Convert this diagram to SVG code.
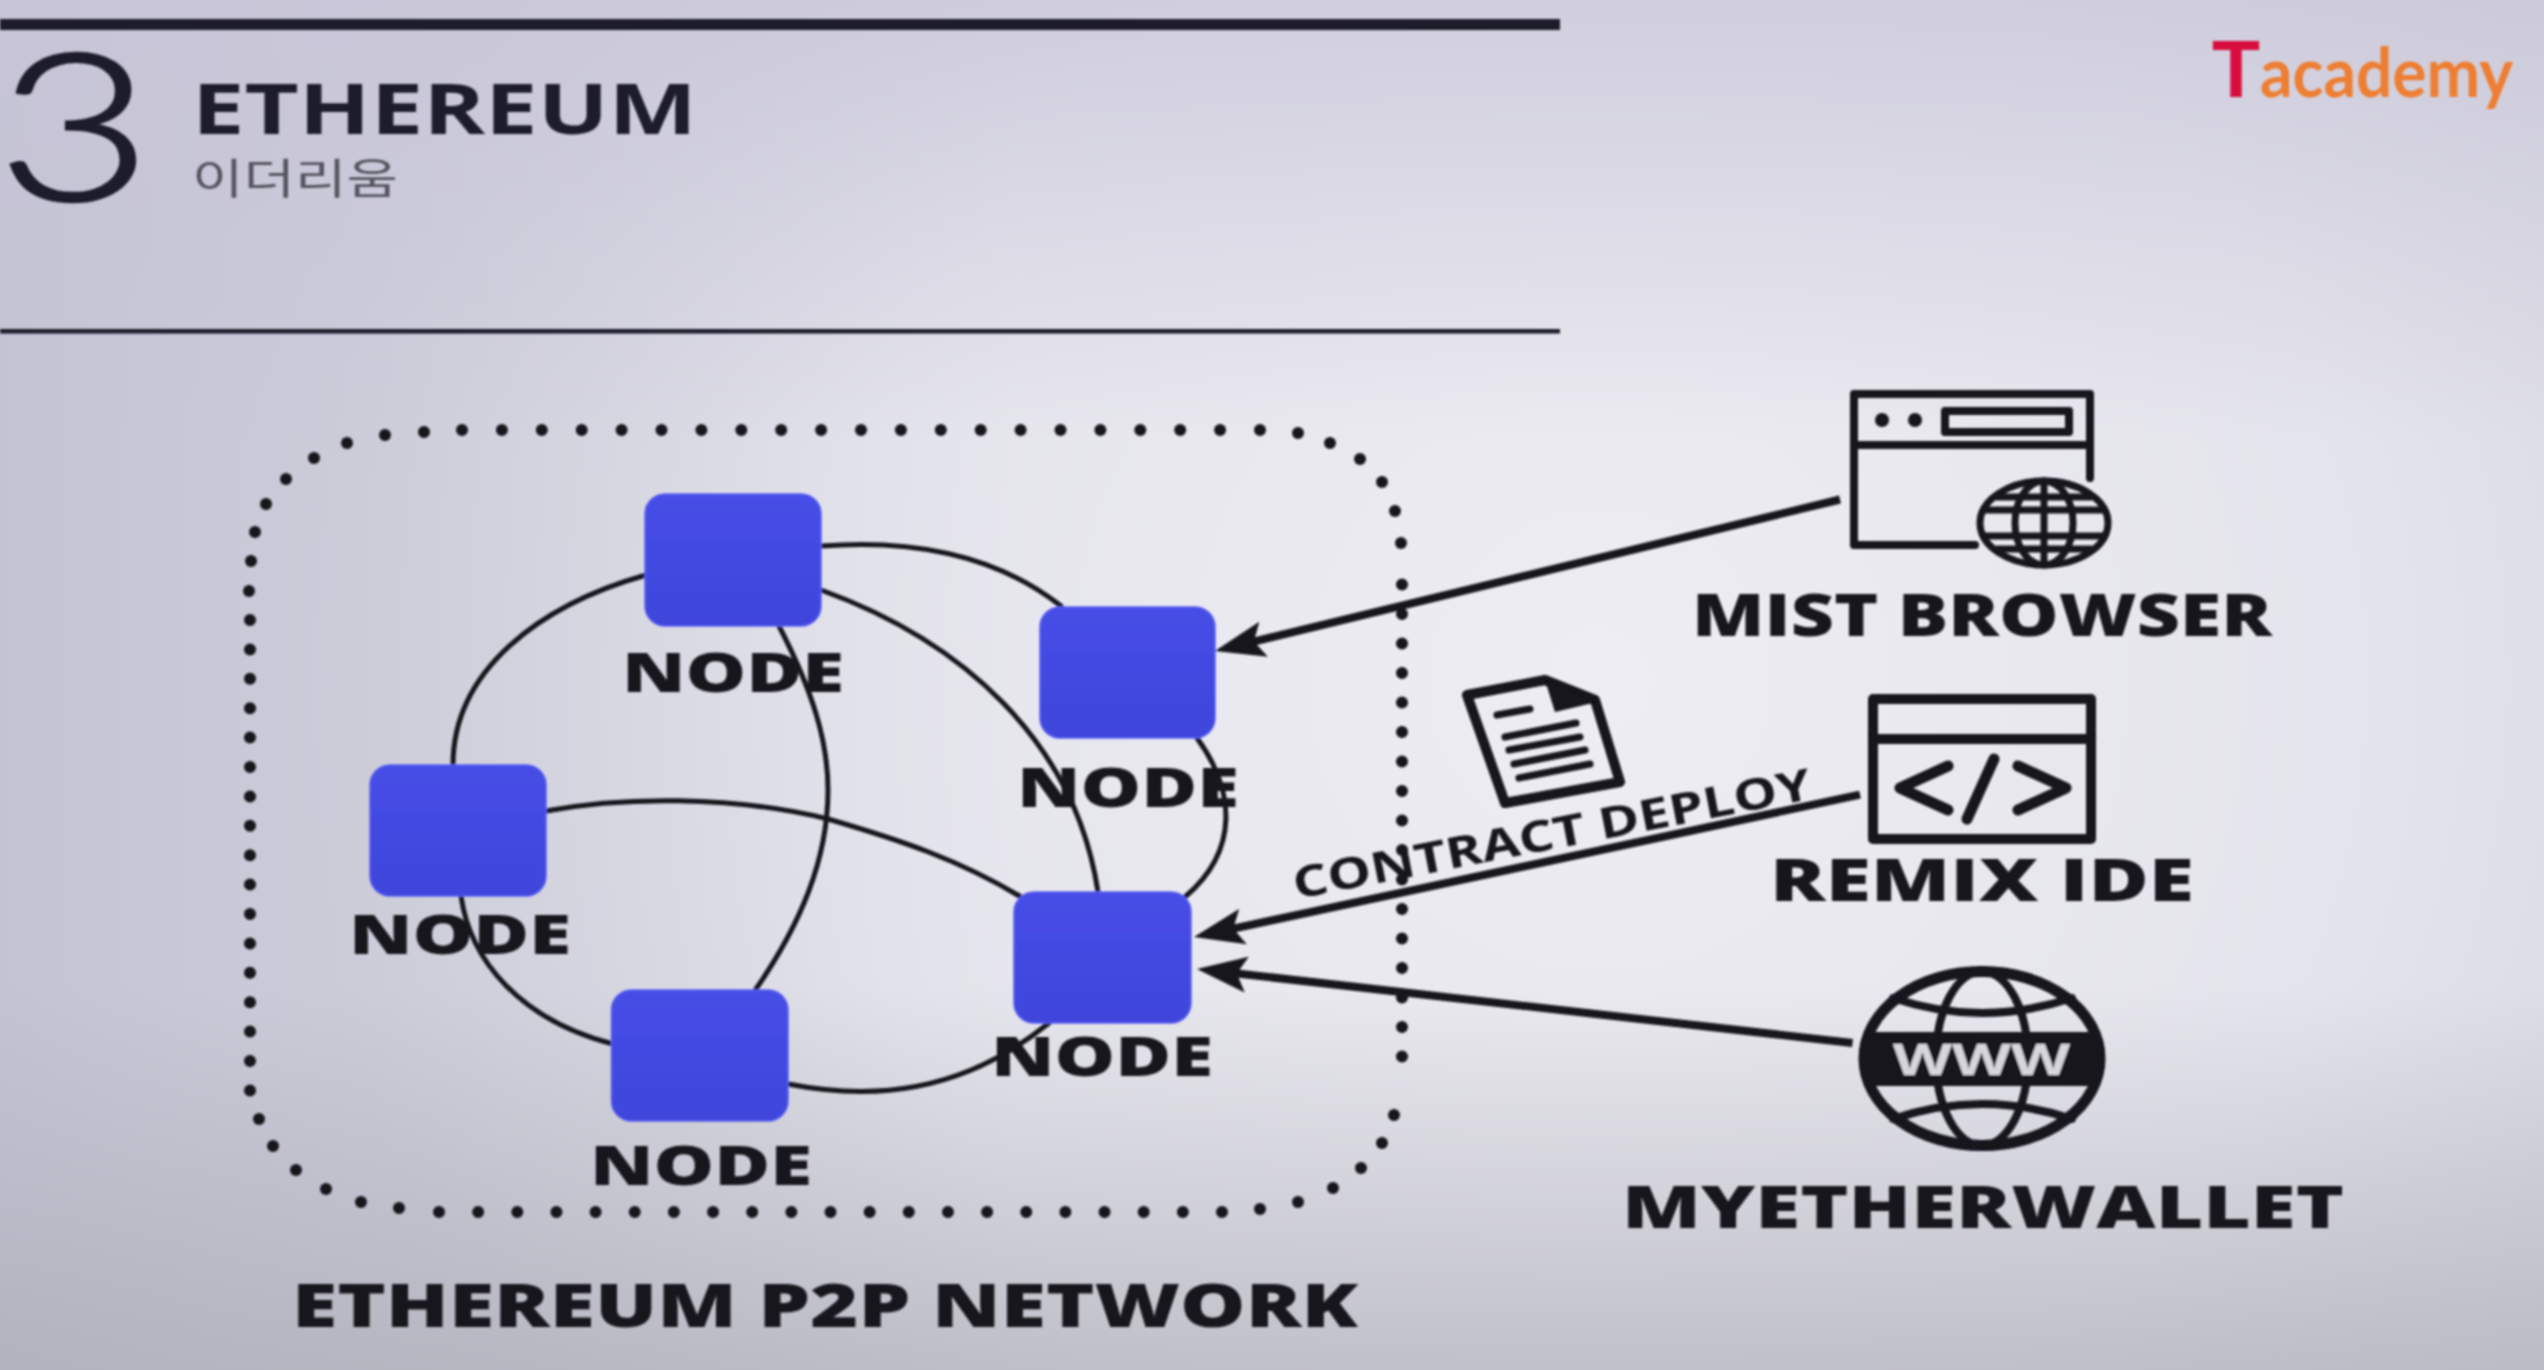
<svg xmlns="http://www.w3.org/2000/svg" width="2544" height="1370" viewBox="0 0 2544 1370">
<defs>
<linearGradient id="bgTop" x1="0" y1="0" x2="0" y2="1"><stop offset="0" stop-color="#c8c5d8" stop-opacity="0.7"/><stop offset="0.32" stop-color="#c8c5d8" stop-opacity="0"/><stop offset="0.72" stop-color="#a8a8b2" stop-opacity="0"/><stop offset="1" stop-color="#a8a8b2" stop-opacity="0.6"/></linearGradient>
<linearGradient id="bgLeft" x1="0" y1="0" x2="1" y2="0"><stop offset="0" stop-color="#b8b8cc" stop-opacity="0.6"/><stop offset="0.4" stop-color="#c8c8d8" stop-opacity="0"/></linearGradient>
<radialGradient id="bgGlow" gradientUnits="userSpaceOnUse" cx="1600" cy="680" r="1300"><stop offset="0" stop-color="#eeedf3"/><stop offset="0.6" stop-color="#e4e4ec"/><stop offset="1" stop-color="#d4d4de"/></radialGradient>
<linearGradient id="nodeFill" x1="0" y1="0" x2="0" y2="1"><stop offset="0" stop-color="#464ee6"/><stop offset="1" stop-color="#3f45dc"/></linearGradient>
<filter id="soft" x="0" y="0" width="100%" height="100%"><feGaussianBlur stdDeviation="0.9"/></filter>
<marker id="arrow" markerUnits="userSpaceOnUse" markerWidth="60" markerHeight="44" refX="30" refY="22" orient="auto"><path d="M50,22 L0,4 L10,22 L0,40 Z" fill="#12121c"/></marker>
</defs>
<style>
text{fill:#13131c}
.h{font-family:"Open Sans","Liberation Sans",sans-serif;font-weight:800}
.nd{font-size:55px}
.lb{font-size:58px}
.ln{fill:none;stroke:#16161f;stroke-width:5;stroke-linecap:round}
.ar{fill:none;stroke:#12121c;stroke-width:8;marker-end:url(#arrow)}
.nb{fill:url(#nodeFill);stroke:#5a60f0;stroke-width:1.5}
.ic{fill:none;stroke:#12121c;stroke-width:8;stroke-linejoin:round;stroke-linecap:round}
.th{stroke-width:7}
.hv{stroke-width:10}
.xh{stroke-width:11}
.dot{fill:#14141f}
</style>
<rect width="2544" height="1370" fill="url(#bgGlow)"/>
<rect width="2544" height="1370" fill="url(#bgLeft)"/>
<rect width="2544" height="1370" fill="url(#bgTop)"/>
<g filter="url(#soft)">
<g id="header">
<rect x="0" y="19" width="1560" height="11" fill="#1a1a2a"/>
<rect x="0" y="329" width="1560" height="4.5" fill="#1a1a2a"/>
<text x="-3" y="200" font-family="Lato,'Open Sans',sans-serif" font-weight="300" font-size="205" textLength="155" lengthAdjust="spacingAndGlyphs" style="fill:#1e1e2c;stroke:#1e1e2c;stroke-width:3">3</text>
<text x="192" y="134" font-family="'Open Sans',sans-serif" font-weight="700" font-size="70" textLength="505" lengthAdjust="spacingAndGlyphs" style="fill:#1e1e2c">ETHEREUM</text>
<text x="192" y="194" font-family="'Noto Sans CJK KR',sans-serif" font-size="42" textLength="206" lengthAdjust="spacingAndGlyphs" style="fill:#55555f">이더리움</text>
</g>
<g id="logo">
<text x="2212" y="97" font-family="'Liberation Sans',sans-serif" font-weight="700" font-size="82" textLength="48" lengthAdjust="spacingAndGlyphs" style="fill:#d80a3e">T</text>
<text x="2260" y="97" font-family="Lato,sans-serif" font-weight="700" font-size="68" textLength="253" lengthAdjust="spacingAndGlyphs" style="fill:#ee7e32">academy</text>
</g>
<g id="network-boundary" class="dot">
<circle cx="249" cy="591" r="6"/><circle cx="251" cy="561" r="6"/><circle cx="255" cy="532" r="6"/><circle cx="266" cy="504" r="6"/><circle cx="286" cy="479" r="6"/><circle cx="314" cy="458" r="6"/><circle cx="347" cy="443" r="6"/><circle cx="385" cy="435" r="6"/><circle cx="424" cy="432" r="6"/>
<path d="M462,430 H1262" fill="none" stroke="#14141f" stroke-width="12" stroke-linecap="round" stroke-dasharray="0 39.9"/>
<circle cx="1298" cy="433" r="6"/><circle cx="1330" cy="443" r="6"/><circle cx="1360" cy="459" r="6"/><circle cx="1382" cy="482" r="6"/><circle cx="1395" cy="511" r="6"/><circle cx="1401" cy="543" r="6"/>
<path d="M1402,584.5 V1086" fill="none" stroke="#14141f" stroke-width="12" stroke-linecap="round" stroke-dasharray="0 29.5"/>
<circle cx="1394" cy="1115" r="6"/><circle cx="1382" cy="1143" r="6"/><circle cx="1361" cy="1168" r="6"/><circle cx="1333" cy="1188" r="6"/><circle cx="1298" cy="1202" r="6"/><circle cx="1260" cy="1209" r="6"/>
<path d="M439,1212 H1224" fill="none" stroke="#14141f" stroke-width="12" stroke-linecap="round" stroke-dasharray="0 39.15"/>
<circle cx="399" cy="1208" r="6"/><circle cx="361" cy="1202" r="6"/><circle cx="326" cy="1189" r="6"/><circle cx="296" cy="1170" r="6"/><circle cx="273" cy="1146" r="6"/><circle cx="259" cy="1119" r="6"/>
<path d="M250,620 V1091" fill="none" stroke="#14141f" stroke-width="12" stroke-linecap="round" stroke-dasharray="0 29.4"/>
</g>
<g id="connectors">
<path class="ln" d="M646,575 C540,605 453,670 453,765"/>
<path class="ln" d="M821,546 C900,540 990,550 1061,606"/>
<path class="ln" d="M821,590 C960,640 1075,740 1098,892"/>
<path class="ln" d="M779,626 C812,690 828,740 828,790 C828,860 800,925 756,989"/>
<path class="ln" d="M546,811 C620,797 730,795 828,819 C900,840 960,860 1021,897"/>
<path class="ln" d="M461,896 C470,960 520,1020 613,1044"/>
<path class="ln" d="M788,1084 C870,1100 960,1095 1049,1023"/>
<path class="ln" d="M1197,738 C1235,790 1240,850 1185,897"/>
<path class="ar" d="M1840,499.5 L1234.4,646.3"/>
<path class="ar" d="M1860,794.6 L1213.6,932.8"/>
<path class="ar" d="M1852.5,1043 L1216.9,971.2"/>
</g>
<g id="node-1"><rect class="nb" x="645" y="494" width="176" height="132" rx="20"/><text class="h nd" x="622" y="692" textLength="222" lengthAdjust="spacingAndGlyphs">NODE</text></g>
<g id="node-2"><rect class="nb" x="1040" y="607" width="175" height="131" rx="20"/><text class="h nd" x="1017" y="807" textLength="222" lengthAdjust="spacingAndGlyphs">NODE</text></g>
<g id="node-3"><rect class="nb" x="370" y="765" width="176" height="131" rx="20"/><text class="h nd" x="349" y="954" textLength="222" lengthAdjust="spacingAndGlyphs">NODE</text></g>
<g id="node-4"><rect class="nb" x="1014" y="892" width="177" height="131" rx="20"/><text class="h nd" x="991" y="1076" textLength="222" lengthAdjust="spacingAndGlyphs">NODE</text></g>
<g id="node-5"><rect class="nb" x="611.5" y="990" width="176.5" height="131" rx="20"/><text class="h nd" x="590" y="1185" textLength="222" lengthAdjust="spacingAndGlyphs">NODE</text></g>
<text id="network-label" class="h" x="292" y="1327" font-size="61" textLength="1066" lengthAdjust="spacingAndGlyphs">ETHEREUM P2P NETWORK</text>
<g id="contract">
<path class="ic hv" d="M1467,695 L1545,680 L1595,700 L1620,782 L1505,803 Z"/>
<path d="M1545,680 L1597,702 L1555,712 Z" fill="#12121c"/>
<path class="ic th" d="M1497,715 L1530,709 M1505,737 L1576,723 M1509,750 L1580,737 M1514,764 L1585,750 M1519,778 L1590,764"/>
<text x="1296" y="899" transform="rotate(-11 1296 899)" font-family="'Open Sans',sans-serif" font-weight="700" font-size="43" textLength="527" lengthAdjust="spacingAndGlyphs">CONTRACT DEPLOY</text>
</g>
<g id="mist-browser">
<path class="ic" d="M2090,478 V394 H1854 V545 H1975 M1854,445 H2090"/>
<circle class="dot" cx="1882" cy="420" r="7"/><circle class="dot" cx="1915" cy="420" r="7"/>
<rect class="ic" x="1945" y="411" width="124" height="21"/>
<ellipse class="ic th" cx="2044" cy="523" rx="64" ry="42"/>
<ellipse class="ic th" cx="2044" cy="523" rx="29" ry="42"/>
<path class="ic th" d="M2044,481 V565 M1984,510 H2104 M1984,536 H2104 M1997,497 H2091 M1997,549 H2091"/>
<text class="h lb" x="1692" y="636" textLength="580" lengthAdjust="spacingAndGlyphs">MIST BROWSER</text>
</g>
<g id="remix-ide">
<rect class="ic hv" x="1873" y="699" width="218" height="140"/>
<path class="ic hv" d="M1873,739 H2091"/>
<path class="ic xh" d="M1948,766 L1900,788 L1948,810 M2018,766 L2066,788 L2018,810 M1994,759 L1967,819"/>
<text class="h lb" x="1770" y="901" textLength="424" lengthAdjust="spacingAndGlyphs">REMIX IDE</text>
</g>
<g id="myetherwallet">
<ellipse class="ic xh" cx="1982" cy="1058.5" rx="118" ry="87"/>
<ellipse class="ic" cx="1982" cy="1058.5" rx="46" ry="87"/>
<path class="ic" d="M1893,998 Q1982,1028 2072,998 M1893,1119 Q1982,1089 2072,1119"/>
<path d="M1865,1032 H2099 Q2104,1058 2099,1086 H1865 Q1860,1058 1865,1032 Z" fill="#12121c"/>
<text x="1893" y="1075" font-family="'Open Sans',sans-serif" font-weight="700" font-size="43" textLength="177" lengthAdjust="spacingAndGlyphs" style="fill:#d6d6dc">WWW</text>
<text class="h lb" x="1622" y="1228" textLength="722" lengthAdjust="spacingAndGlyphs">MYETHERWALLET</text>
</g>
</g>
</svg>
